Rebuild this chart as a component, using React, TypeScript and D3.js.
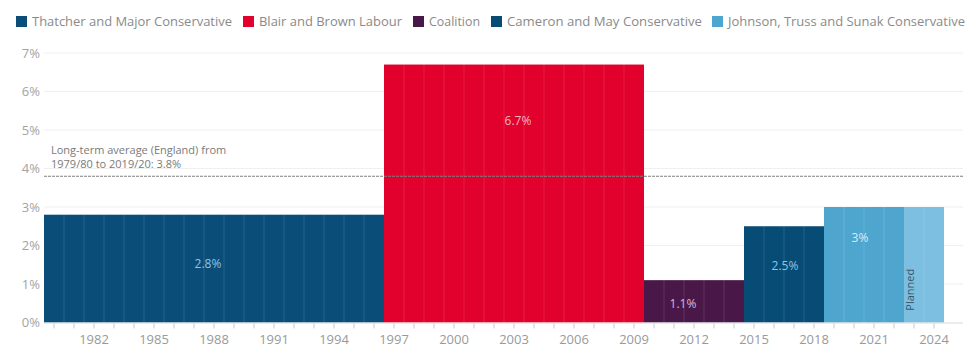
import React from "react";
import * as d3 from "d3";

const periodNames = [
  "Thatcher and Major Conservative",
  "Blair and Brown Labour",
  "Coalition",
  "Cameron and May Conservative",
  "Johnson, Truss and Sunak Conservative",
];
const periodStart = [1980, 1997, 2010, 2015, 2019, 2023];
const periodEnd = [1996, 2009, 2014, 2018, 2022, 2024];
const periodValues = [2.8, 6.7, 1.1, 2.5, 3.0, 3.0];
const periodLabels = ["2.8%", "6.7%", "1.1%", "2.5%", "3%", ""];
const periodColors = ["#0a4d78", "#e2002c", "#4a1848", "#074c74", "#4ea6cf", "#7dbfe0"];
const labelColors = ["#8fc3e3", "#f6b6c2", "#d8b8d8", "#8fc3e3", "#d8ecf7", ""];
// label vertical position as fraction of bar height
const labelFrac = [0.54, 0.78, 0.44, 0.59, 0.73, 0];
const labelDx = [-6, 4, -11, 1, -4, 0];

const yTicks = [0, 1, 2, 3, 4, 5, 6, 7];
const xLabelYears = [1982, 1985, 1988, 1991, 1994, 1997, 2000, 2003, 2006, 2009, 2012, 2015, 2018, 2021, 2024];
const averageValue = 3.8;
const averageText = ["Long-term average (England) from", "1979/80 to 2019/20: 3.8%"];
const plannedText = "Planned";

const W = 972;
const H = 347;
const FONT = "'Open Sans', Lato, sans-serif";

export default function App() {
  const years = d3.range(periodStart[0], periodEnd[periodEnd.length - 1] + 1);
  const x = d3.scaleBand<number>().domain(years).range([44, 944]).padding(0);
  const y = d3.scaleLinear().domain([0, 7]).range([322.5, 53]);
  const bw = x.bandwidth();
  const gridRight = 963;

  const legendX = [16, 243, 413, 491, 712];
  const legendLen = [200, 143, 51, 195, 237];

  return (
    <svg width={W} height={H} style={{ position: "absolute", left: 0, top: 0, background: "#fff" }} fontFamily={FONT}>
      {/* legend */}
      {periodNames.map((n, i) => (
        <g key={n} transform={`translate(${legendX[i]},16)`}>
          <rect x={0} y={0} width={11} height={11} fill={periodColors[i]} />
          <text x={16} y={10} fontSize={12.5} fill="#8a8a8a" textLength={legendLen[i]} lengthAdjust="spacingAndGlyphs">{n}</text>
        </g>
      ))}
      {/* gridlines */}
      {yTicks.map((t) => (
        <g key={t}>
          {t > 0 && <line x1={44} x2={gridRight} y1={y(t)} y2={y(t)} stroke="#efefef" strokeWidth={1} />}
          <text x={40} y={y(t) + 4.5} textAnchor="end" fontSize={13} fill="#a3a3a3">{t}%</text>
        </g>
      ))}
      {/* bars */}
      {periodValues.map((v, i) => {
        const x0 = x(periodStart[i])!;
        const x1 = x(periodEnd[i])! + bw;
        const yrs = d3.range(periodStart[i], periodEnd[i] + 1);
        return (
          <g key={i}>
            <rect x={x0} y={y(v)} width={x1 - x0} height={y(0) - y(v)} fill={periodColors[i]} />
            {yrs.slice(1).map((yr) => (
              <line key={yr} x1={x(yr)!} x2={x(yr)!} y1={y(v)} y2={y(0)} stroke="#ffffff" strokeOpacity={0.12} strokeWidth={1} />
            ))}
            {periodLabels[i] && (
              <text
                x={(x0 + x1) / 2 + labelDx[i]}
                y={y(0) - (y(0) - y(v)) * labelFrac[i] + 4}
                textAnchor="middle"
                fontSize={12}
                fill={labelColors[i]}
              >
                {periodLabels[i]}
              </text>
            )}
          </g>
        );
      })}
      {/* planned label */}
      <text
        transform={`translate(${x(2023)! + 10},${y(0.85)}) rotate(-90)`}
        textAnchor="middle"
        fontSize={11}
        fill="#3a5566"
      >
        {plannedText}
      </text>
      {/* baseline */}
      <line x1={44} x2={gridRight} y1={y(0) + 0.5} y2={y(0) + 0.5} stroke="#d8d8d8" />
      {/* x ticks */}
      {years.map((yr) => (
        <line key={yr} x1={x(yr)! + bw / 2} x2={x(yr)! + bw / 2} y1={y(0) + 1} y2={y(0) + 6} stroke="#c8c8c8" />
      ))}
      {xLabelYears.map((yr) => (
        <text key={yr} x={x(yr)! + bw / 2} y={344} textAnchor="middle" fontSize={13} fill="#9a9a9a">{yr}</text>
      ))}
      {/* average line */}
      <line x1={44} x2={gridRight} y1={y(averageValue)} y2={y(averageValue)} stroke="#7f7f7f" strokeWidth={1.1} strokeDasharray="3,1" />
      {averageText.map((t, i) => (
        <text key={i} x={51} y={y(averageValue) - 22 + i * 14} fontSize={11} fill="#7a7a7a">{t}</text>
      ))}
    </svg>
  );
}
